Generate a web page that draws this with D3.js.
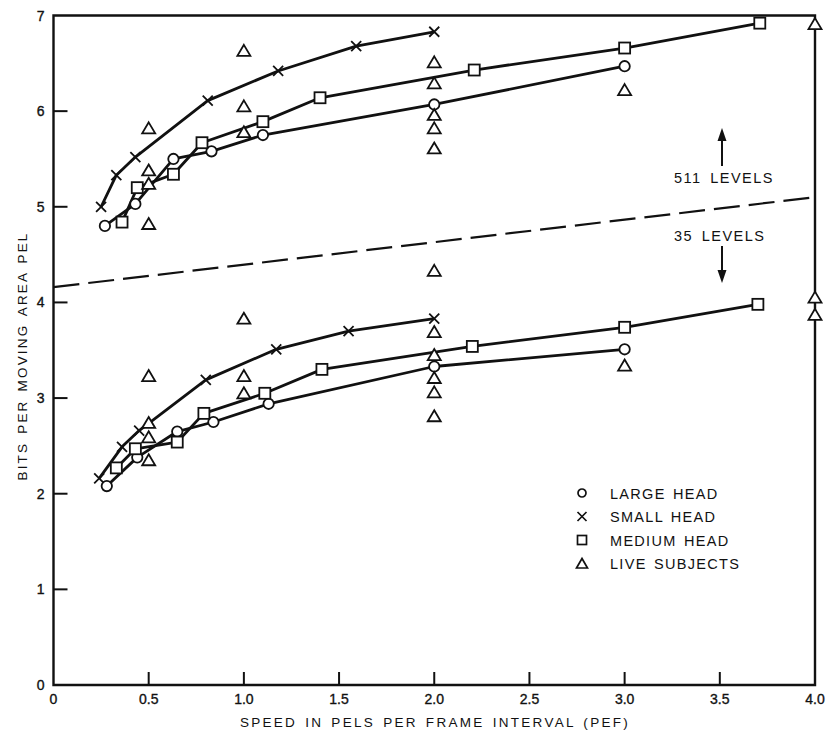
<!DOCTYPE html>
<html><head><meta charset="utf-8">
<script src="https://cdn.jsdelivr.net/npm/d3@7/dist/d3.min.js"></script>
<style>
body{margin:0;background:#fff;}
text{font-family:"Liberation Sans",Arial,sans-serif;fill:#111;}
</style></head>
<body><svg id="c" width="827" height="732"></svg>
<script>
// ---- data ----
const xTicks = [0, 0.5, 1.0, 1.5, 2.0, 2.5, 3.0, 3.5, 4.0];
const xTickLabels = ["0","0.5","1.0","1.5","2.0","2.5","3.0","3.5","4.0"];
const yTicks = [0,1,2,3,4,5,6,7];

// 511 levels (upper group)
const smallHeadHiX = [0.25,0.33,0.43,0.81,1.18,1.59,2.0];
const smallHeadHiY = [5.0,5.33,5.52,6.11,6.42,6.68,6.83];
const largeHeadHiX = [0.27,0.43,0.63,0.83,1.10,2.0,3.0];
const largeHeadHiY = [4.80,5.03,5.50,5.58,5.75,6.07,6.47];
const mediumHeadHiX = [0.36,0.44,0.63,0.78,1.10,1.40,2.21,3.0,3.71];
const mediumHeadHiY = [4.84,5.20,5.34,5.67,5.89,6.14,6.43,6.66,6.92];
const liveHiX = [0.5,0.5,0.5,0.5,1.0,1.0,1.0,2.0,2.0,2.0,2.0,2.0,3.0,4.0];
const liveHiY = [5.82,5.38,5.24,4.82,6.63,6.05,5.78,6.51,6.29,5.96,5.82,5.61,6.22,6.91];

// 35 levels (lower group)
const smallHeadLoX = [0.24,0.36,0.45,0.80,1.17,1.55,2.0];
const smallHeadLoY = [2.16,2.49,2.66,3.19,3.51,3.70,3.83];
const largeHeadLoX = [0.28,0.44,0.65,0.84,1.13,2.0,3.0];
const largeHeadLoY = [2.08,2.38,2.65,2.75,2.94,3.33,3.51];
const mediumHeadLoX = [0.33,0.43,0.65,0.79,1.11,1.41,2.20,3.0,3.70];
const mediumHeadLoY = [2.27,2.47,2.54,2.84,3.05,3.30,3.54,3.74,3.98];
const liveLoX = [0.5,0.5,0.5,0.5,1.0,1.0,1.0,2.0,2.0,2.0,2.0,2.0,2.0,3.0,4.0,4.0];
const liveLoY = [3.23,2.74,2.59,2.35,3.83,3.23,3.05,4.33,3.69,3.45,3.21,3.06,2.81,3.34,4.05,3.87];

// dividing dashed line
const divX = [0, 4.0];
const divY = [4.16, 5.10];

const legendLabels = ["LARGE HEAD","SMALL HEAD","MEDIUM HEAD","LIVE SUBJECTS"];
const legendShapes = ["circle","cross","square","triangle"];

// ---- drawing ----
const svg = d3.select("#c");
const x = d3.scaleLinear().domain([0,4]).range([53.5,815]);
const y = d3.scaleLinear().domain([0,7]).range([685,15.5]);
const zip = (a,b)=>a.map((v,i)=>[v,b[i]]);

// frame
const g = svg.append("g");
g.append("path").attr("d",`M${x(0)},${y(7)}H${x(4)}V${y(0)}H${x(0)}Z`)
 .attr("fill","none").attr("stroke","#111").attr("stroke-width",2.4);

// ticks (inward)
xTicks.filter(t=>t>0&&t<4).forEach(t=>{
  g.append("line").attr("x1",x(t)).attr("x2",x(t)).attr("y1",y(0)).attr("y2",y(0)-13)
   .attr("stroke","#111").attr("stroke-width",2);
});
yTicks.filter(t=>t>0&&t<7).forEach(t=>{
  g.append("line").attr("x1",x(0)).attr("x2",x(0)+14).attr("y1",y(t)).attr("y2",y(t))
   .attr("stroke","#111").attr("stroke-width",2);
});
xTicks.forEach((t,i)=>{
  g.append("text").attr("x",x(t)).attr("y",y(0)+19).attr("text-anchor","middle")
   .attr("font-size",14).attr("stroke","#111").attr("stroke-width",0.35).text(xTickLabels[i]);
});
yTicks.forEach(t=>{
  g.append("text").attr("x",x(0)-9).attr("y",y(t)+5).attr("text-anchor","end")
   .attr("font-size",14).attr("stroke","#111").attr("stroke-width",0.35).text(t);
});

// axis titles
svg.append("text").attr("x",435).attr("y",727).attr("text-anchor","middle")
  .attr("font-size",13.5).attr("letter-spacing",2.3).attr("word-spacing",2).text("SPEED IN PELS PER FRAME INTERVAL (PEF)");
svg.append("text").attr("transform","translate(27,356) rotate(-90)").attr("text-anchor","middle")
  .attr("font-size",13.5).attr("letter-spacing",2.2).attr("word-spacing",2).text("BITS PER MOVING AREA PEL");

// dashed divider
const line = d3.line().x(d=>x(d[0])).y(d=>y(d[1]));
g.append("path").attr("d",line(zip(divX,divY))).attr("fill","none")
 .attr("stroke","#111").attr("stroke-width",2.2).attr("stroke-dasharray","26,9");

// series lines
const series = [
  [smallHeadHiX,smallHeadHiY,"cross"],[largeHeadHiX,largeHeadHiY,"circle"],[mediumHeadHiX,mediumHeadHiY,"square"],
  [smallHeadLoX,smallHeadLoY,"cross"],[largeHeadLoX,largeHeadLoY,"circle"],[mediumHeadLoX,mediumHeadLoY,"square"]
];
series.forEach(s=>{
  g.append("path").attr("d",line(zip(s[0],s[1]))).attr("fill","none")
   .attr("stroke","#111").attr("stroke-width",2.8).attr("stroke-linejoin","round");
});

function marker(sel, shape, cx, cy){
  const m = sel.append("g").attr("transform",`translate(${cx},${cy})`);
  if(shape==="circle"){
    m.append("circle").attr("r",5.2).attr("fill","#fff").attr("stroke","#111").attr("stroke-width",1.8);
  } else if(shape==="square"){
    m.append("rect").attr("x",-5.5).attr("y",-5.5).attr("width",11).attr("height",11)
     .attr("fill","#fff").attr("stroke","#111").attr("stroke-width",1.8);
  } else if(shape==="cross"){
    m.append("path").attr("d","M-5,-5L5,5M-5,5L5,-5").attr("stroke","#111").attr("stroke-width",1.8);
  } else {
    m.append("path").attr("d","M0,-6L6.5,5H-6.5Z").attr("fill","#fff").attr("stroke","#111")
     .attr("stroke-width",1.8).attr("stroke-linejoin","miter");
  }
}
series.forEach(s=>{ s[0].forEach((v,i)=>marker(g,s[2],x(v),y(s[1][i]))); });
liveHiX.forEach((v,i)=>marker(g,"triangle",x(v),y(liveHiY[i])));
liveLoX.forEach((v,i)=>marker(g,"triangle",x(v),y(liveLoY[i])));

// level annotations
const ax = 722;
g.append("line").attr("x1",ax).attr("x2",ax).attr("y1",166).attr("y2",138).attr("stroke","#111").attr("stroke-width",2);
g.append("path").attr("d",`M${ax},128L${ax-4.5},141L${ax+4.5},141Z`).attr("fill","#111");
svg.append("text").attr("x",674).attr("y",183).attr("font-size",14.5).attr("letter-spacing",1.5).attr("word-spacing",3).text("511 LEVELS");
svg.append("text").attr("x",674).attr("y",241).attr("font-size",14.5).attr("letter-spacing",1.5).attr("word-spacing",3).text("35 LEVELS");
g.append("line").attr("x1",ax).attr("x2",ax).attr("y1",246).attr("y2",272).attr("stroke","#111").attr("stroke-width",2);
g.append("path").attr("d",`M${ax},283L${ax-4.5},270L${ax+4.5},270Z`).attr("fill","#111");

// legend
legendLabels.forEach((lab,i)=>{
  const ly = 493 + i*23.5;
  const lg = svg.append("g");
  const sh = legendShapes[i];
  const m = lg.append("g").attr("transform",`translate(582,${ly})`);
  if(sh==="circle") m.append("circle").attr("r",4).attr("fill","none").attr("stroke","#111").attr("stroke-width",1.7);
  else if(sh==="square") m.append("rect").attr("x",-4.5).attr("y",-4.5).attr("width",9).attr("height",9).attr("fill","none").attr("stroke","#111").attr("stroke-width",1.7);
  else if(sh==="cross") m.append("path").attr("d","M-4.5,-4.5L4.5,4.5M-4.5,4.5L4.5,-4.5").attr("stroke","#111").attr("stroke-width",1.7);
  else m.append("path").attr("d","M0,-5L5.5,4.5H-5.5Z").attr("fill","none").attr("stroke","#111").attr("stroke-width",1.7);
  lg.append("text").attr("x",610).attr("y",ly+5.5).attr("font-size",14.5).attr("letter-spacing",1.3).attr("word-spacing",2).text(lab);
});
</script></body></html>
